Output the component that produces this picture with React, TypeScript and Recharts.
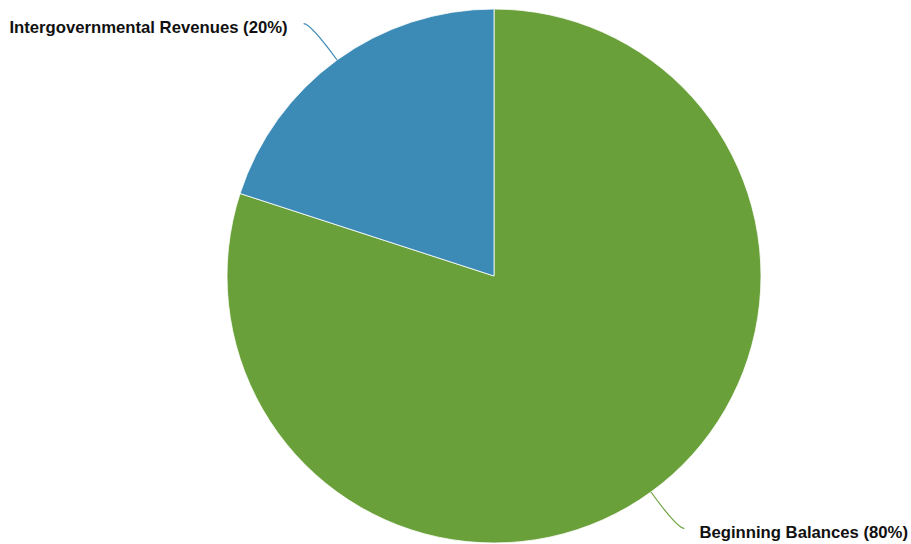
import { PieChart, Pie, Cell } from "recharts";

const CATEGORIES = ["Beginning Balances", "Intergovernmental Revenues"];
const SHARES = [80, 20];
const COLORS = ["#69a03a", "#3c8ab6"];

const data = CATEGORIES.map((name, i) => ({ name, value: SHARES[i] }));

const RAD = Math.PI / 180;

function renderLabel(props: any) {
  const { cx, cy, midAngle, outerRadius, name, value, fill } = props;
  const cos = Math.cos(-midAngle * RAD);
  const sin = Math.sin(-midAngle * RAD);
  const sx = cx + outerRadius * cos;
  const sy = cy + outerRadius * sin;
  const mx = cx + (outerRadius + 45) * cos;
  const my = cy + (outerRadius + 45) * sin;
  const right = cos >= 0;
  const ex = mx + (right ? 7 : -7);
  const ey = my;
  const tx = ex + (right ? 15 : -16);
  return (
    <g>
      <path
        d={`M${sx},${sy}Q${mx},${my} ${ex},${ey}`}
        stroke={fill}
        strokeWidth={1.2}
        fill="none"
      />
      <text
        x={tx}
        y={ey + 4}
        textAnchor={right ? "start" : "end"}
        dominantBaseline="central"
        fontFamily="'Liberation Sans', Arial, sans-serif"
        fontWeight="bold"
        fontSize={16.7}
        fill="#111"
      >
        {`${name} (${value}%)`}
      </text>
    </g>
  );
}

export default function App() {
  return (
    <div style={{ position: "absolute", left: 0, top: 0, background: "#fff" }}>
      <PieChart
        width={911}
        height={544}
        margin={{ top: 0, right: 0, bottom: 0, left: 0 }}
      >
        <Pie
          data={data}
          dataKey="value"
          nameKey="name"
          cx={494}
          cy={276}
          outerRadius={267}
          startAngle={90}
          endAngle={-270}
          stroke="#ffffff"
          strokeWidth={0.8}
          label={renderLabel}
          labelLine={false}
          isAnimationActive={false}
        >
          {data.map((d, i) => (
            <Cell key={d.name} fill={COLORS[i]} />
          ))}
        </Pie>
      </PieChart>
    </div>
  );
}
